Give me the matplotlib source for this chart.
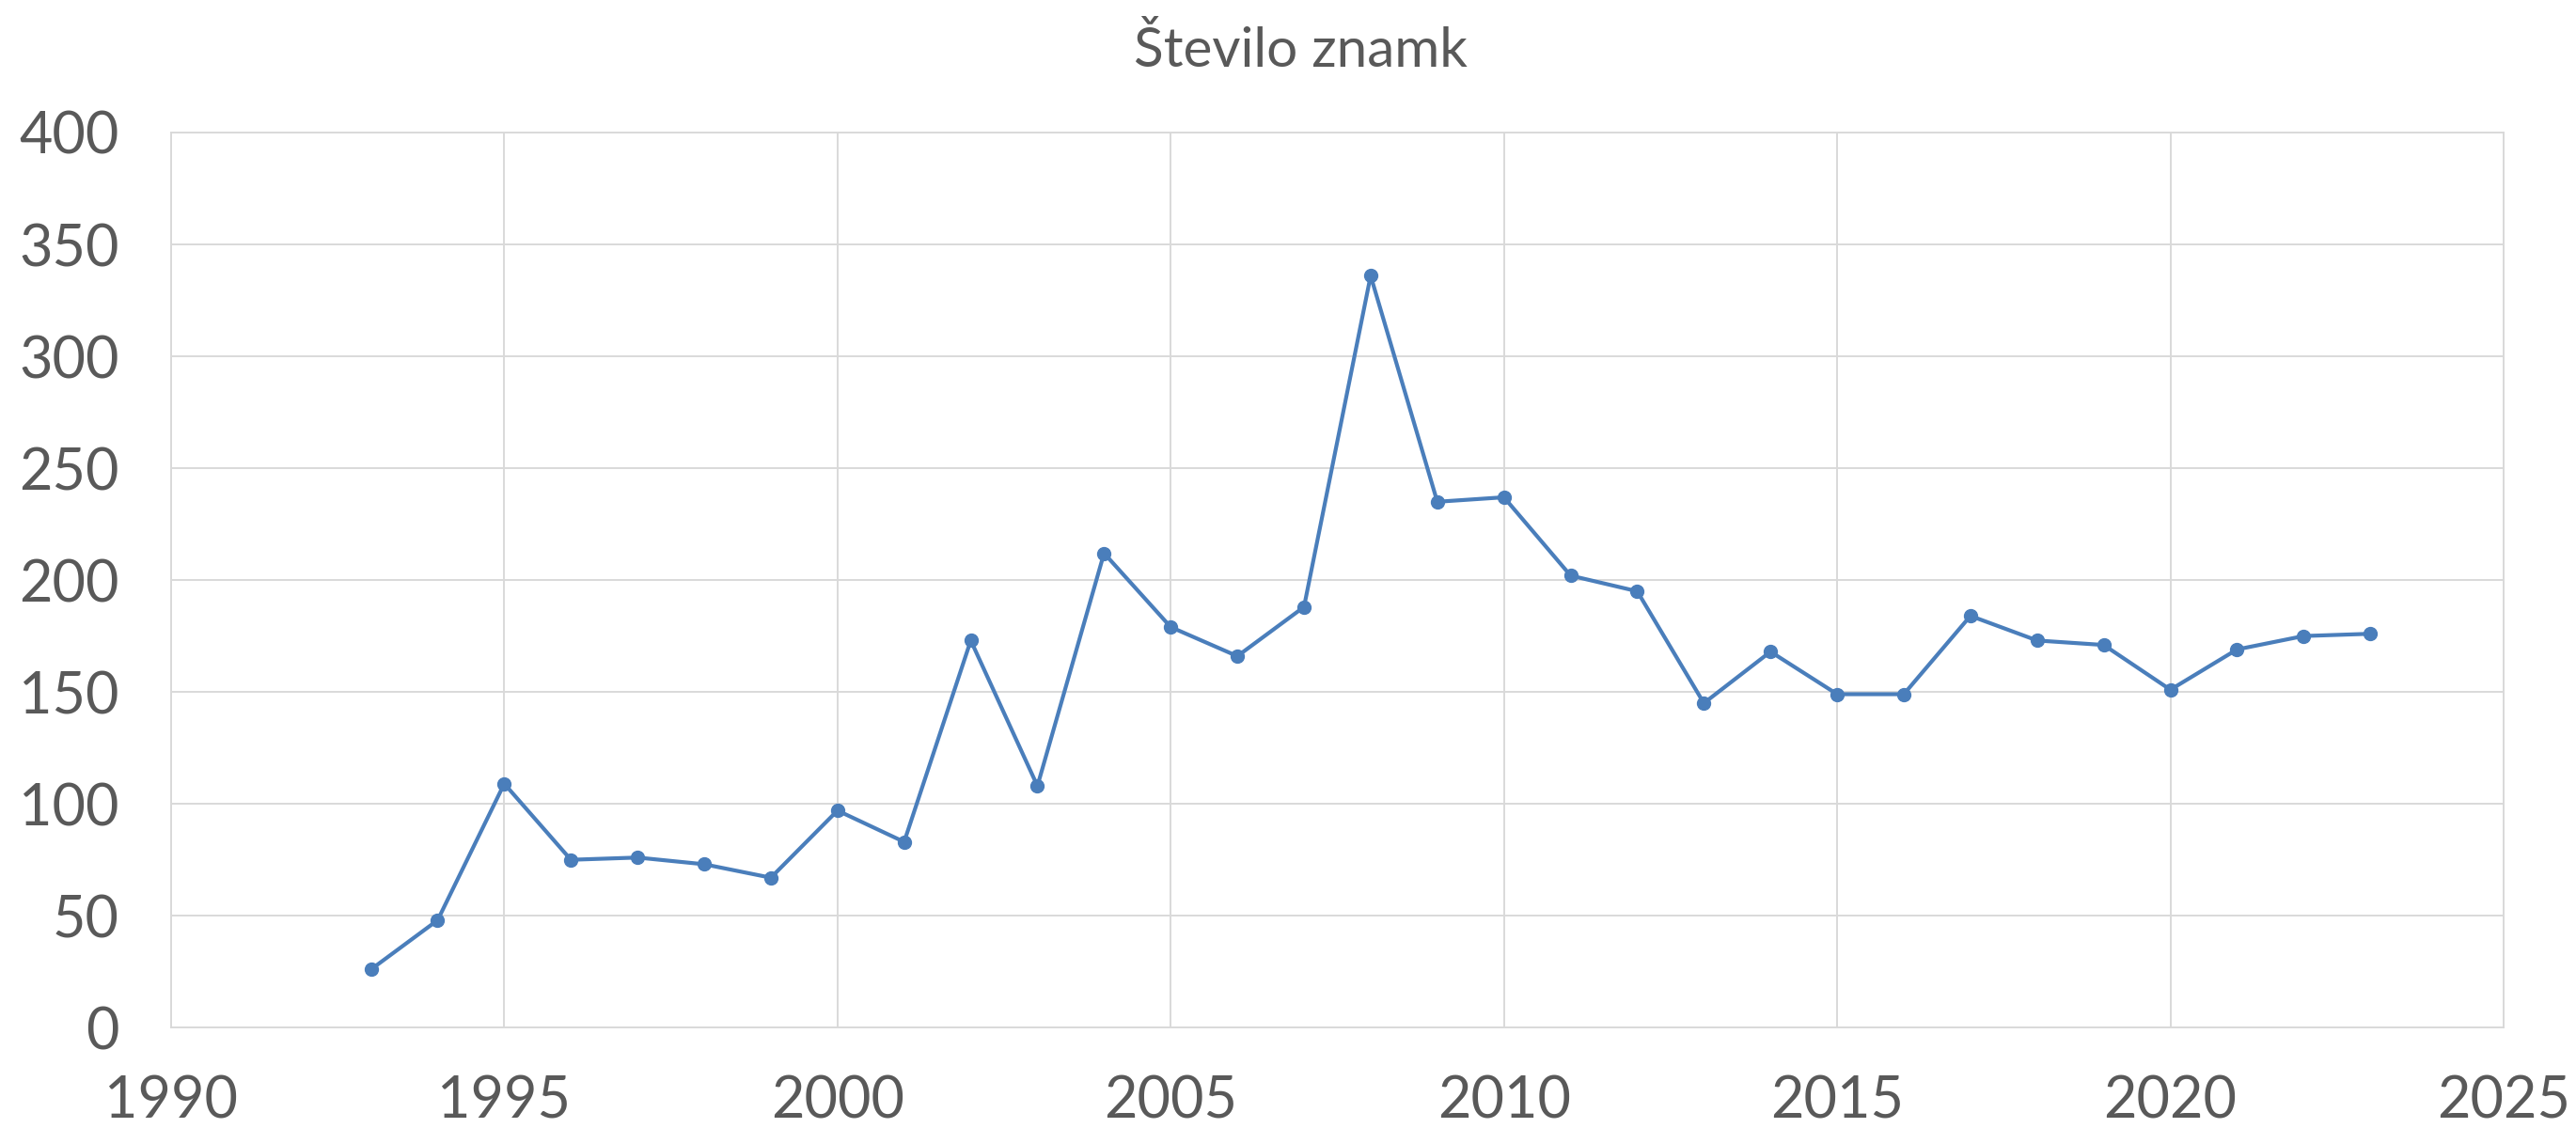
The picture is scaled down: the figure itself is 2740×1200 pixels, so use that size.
import matplotlib
matplotlib.use('Agg')
import matplotlib.pyplot as plt

# Število znamk po letih
years = [1993, 1994, 1995, 1996, 1997, 1998, 1999, 2000, 2001, 2002, 2003,
         2004, 2005, 2006, 2007, 2008, 2009, 2010, 2011, 2012, 2013, 2014,
         2015, 2016, 2017, 2018, 2019, 2020, 2021, 2022, 2023]
counts = [26, 48, 109, 75, 76, 73, 67, 97, 83, 173, 108,
          212, 179, 166, 188, 336, 235, 237, 202, 195, 145, 168,
          149, 149, 184, 173, 171, 151, 169, 175, 176]

x_ticks = list(range(1990, 2026, 5))
y_ticks = list(range(0, 401, 50))

plt.rcParams['font.family'] = ['Lato', 'DejaVu Sans']
text_col = '#595959'
grid_col = '#d9d9d9'

fig = plt.figure(figsize=(27.4, 12), dpi=100)
ax = fig.add_axes([0.0664, 0.089, 0.9055, 0.7935])

ax.plot(years, counts, color='#4a7ebb', linewidth=3,
        marker='o', markersize=10, markerfacecolor='#4a7ebb',
        markeredgecolor='#4a7ebb')

ax.set_xlim(1990, 2025)
ax.set_ylim(0, 400)
ax.set_xticks(x_ticks)
ax.set_yticks(y_ticks)
ax.grid(True, color=grid_col, linewidth=1.4)
ax.set_axisbelow(True)
for s in ax.spines.values():
    s.set_color(grid_col)
    s.set_linewidth(1.4)
ax.tick_params(length=0, labelsize=44, colors=text_col)
ax.tick_params(axis='x', pad=36)
ax.tick_params(axis='y', pad=40)

fig.text(0.505, 0.955, 'Število znamk', ha='center', va='center',
         fontsize=42, color=text_col)

fig.savefig('out.png', dpi=100)
